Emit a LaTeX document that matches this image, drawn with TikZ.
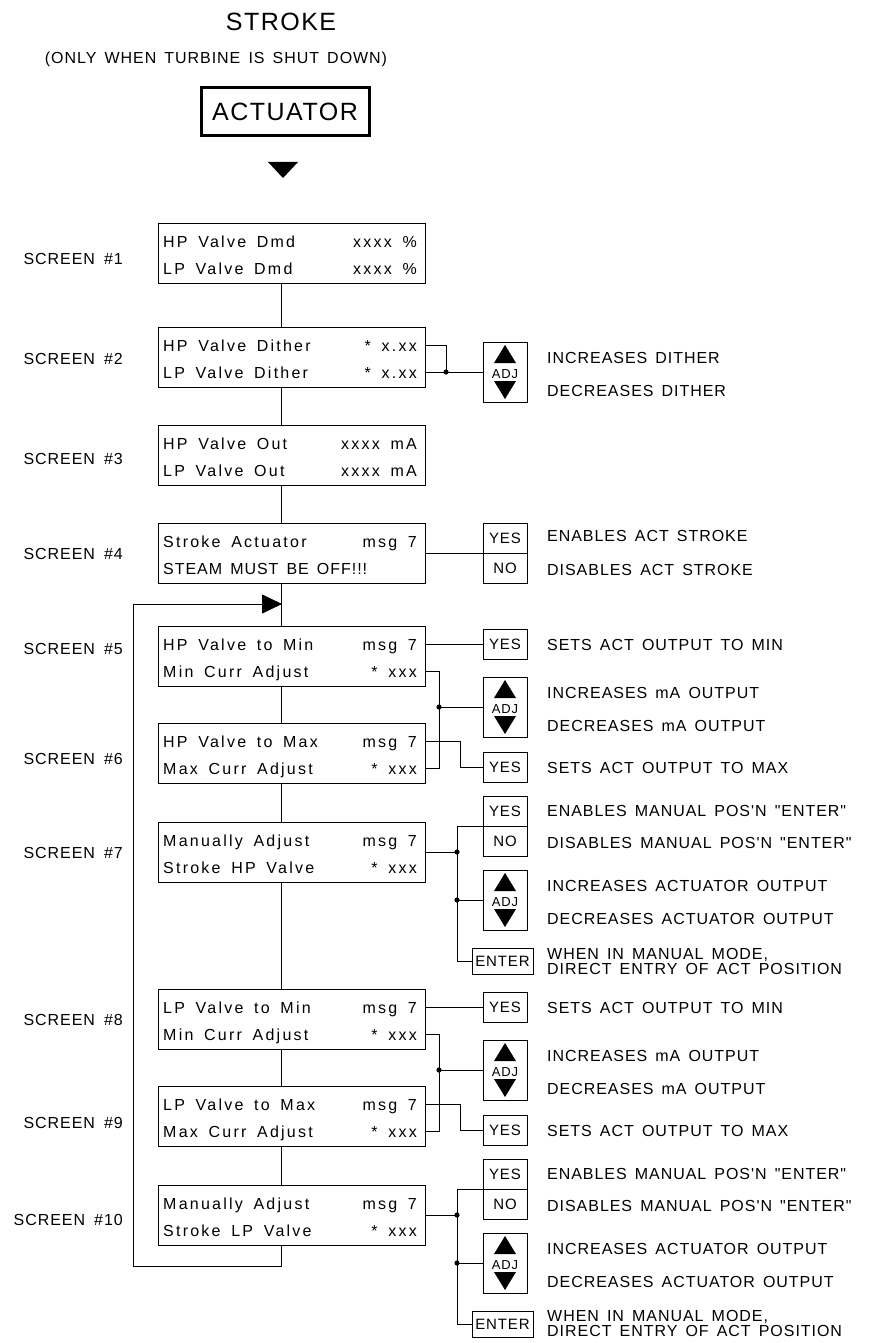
\documentclass[tikz,border=0pt]{standalone}
\usepackage{fontspec}
\usetikzlibrary{arrows.meta}
\newfontfamily\cadlow[LetterSpace=14,WordSpace=1.6]{Liberation Sans}
\newfontfamily\cadup[LetterSpace=6,WordSpace=1.5]{Liberation Sans}
\tikzset{
  ln/.style={line width=0.8pt},
  scr/.style={draw, line width=0.8pt, minimum width=267pt, minimum height=60pt, inner sep=0pt},
  btn/.style={draw, line width=0.8pt, minimum width=44pt, minimum height=30pt, inner sep=0pt, font=\cadup\fontsize{15}{15}\selectfont},
  adjb/.style={draw, line width=0.8pt, minimum width=44pt, minimum height=60pt, inner sep=0pt},
  entb/.style={draw, line width=0.8pt, minimum width=61pt, minimum height=26pt, inner sep=0pt, font=\cadup\fontsize{15}{15}\selectfont},
  rowl/.style={anchor=base west, inner sep=0pt, font=\cadlow\fontsize{16}{18}\selectfont},
  rowr/.style={anchor=base east, inner sep=0pt, font=\cadlow\fontsize{16}{18}\selectfont},
  lbl/.style={anchor=base west, inner sep=0pt, font=\cadup\fontsize{16}{18}\selectfont},
  scrl/.style={anchor=base east, inner sep=0pt, font=\cadup\fontsize{16}{18}\selectfont}
}
\newcommand\screenbox[7]{%
  \node[scr] (s#1) at (291.5,#2) {};
  \node[rowl] (s#1a) at (163,{#2-6}) {#4};
  \node[rowr] (s#1b) at (417,{#2-6}) {#5};
  \node[rowl] (s#1c) at (163,{#2+21}) {#6};
  \node[rowr] (s#1d) at (417,{#2+21}) {#7};
  \node[scrl] (s#1n) at (123,{#3+6}) {SCREEN\kern9pt\##1};
  \coordinate (s#1-r1) at (425,{#2-12});
  \coordinate (s#1-r2) at (425,{#2+15});
  \coordinate (s#1-t) at (281,{#2-30});
  \coordinate (s#1-b) at (281,{#2+30});
}
\newcommand\adjbox[3]{%
  \node[adjb] (#1) at (#2,#3) {};
  \node[inner sep=0pt, font=\cadup\fontsize{13}{13}\selectfont] (#1t) at (#2,{#3+2}) {ADJ};
  \fill ({#2-11},{#3-9}) -- ({#2+11},{#3-9}) -- (#2,{#3-27}) -- cycle;
  \fill ({#2-11},{#3+9}) -- ({#2+11},{#3+9}) -- (#2,{#3+27}) -- cycle;
}
\newcommand\lbl[3]{\node[lbl] (#1) at (547,{#2+6}) {#3};}
\newcommand\jdot[1]{\fill (#1) circle[radius=2.6pt];}
\begin{document}
\begin{tikzpicture}[x=1pt,y=-1pt]
\fill[white] (0,0) rectangle (870,1343);
\path[use as bounding box] (0,0) rectangle (870,1343);

% header
\node[font=\cadup\fontsize{25}{25}\selectfont, anchor=base, inner sep=0pt] (title) at (281,31) {STROKE};
\node[font=\cadup\fontsize{16}{16}\selectfont, anchor=base, inner sep=0pt] (sub) at (216,64) {(ONLY WHEN TURBINE IS SHUT DOWN)};
\node[draw, line width=3pt, minimum width=168pt, minimum height=48pt, inner sep=0pt, font=\cadup\fontsize{25}{25}\selectfont] (act) at (285,112) {ACTUATOR};
\fill (268,162) -- (298,162) -- (283,178) -- cycle;

% screens
\screenbox{1}{253}{258}{HP Valve Dmd}{xxxx \%}{LP Valve Dmd}{xxxx \%}
\screenbox{2}{357}{358}{HP Valve Dither}{* x.xx}{LP Valve Dither}{* x.xx}
\screenbox{3}{455}{458}{HP Valve Out}{xxxx mA}{LP Valve Out}{xxxx mA}
\screenbox{4}{553}{553}{Stroke Actuator}{msg 7}{{\cadup STEAM MUST BE OFF!!!}}{}
\screenbox{5}{656}{648}{HP Valve to Min}{msg 7}{Min Curr Adjust}{* xxx}
\screenbox{6}{753}{758}{HP Valve to Max}{msg 7}{Max Curr Adjust}{* xxx}
\screenbox{7}{852}{852}{Manually Adjust}{msg 7}{Stroke HP Valve}{* xxx}
\screenbox{8}{1019}{1019}{LP Valve to Min}{msg 7}{Min Curr Adjust}{* xxx}
\screenbox{9}{1116}{1122}{LP Valve to Max}{msg 7}{Max Curr Adjust}{* xxx}
\screenbox{10}{1215}{1219}{Manually Adjust}{msg 7}{Stroke LP Valve}{* xxx}

% main chain
\draw[ln] (s1-b) -- (s2-t);
\draw[ln] (s2-b) -- (s3-t);
\draw[ln] (s3-b) -- (s4-t);
\draw[ln] (s4-b) -- (s5-t);
\draw[ln] (s5-b) -- (s6-t);
\draw[ln] (s6-b) -- (s7-t);
\draw[ln] (s7-b) -- (s8-t);
\draw[ln] (s8-b) -- (s9-t);
\draw[ln] (s9-b) -- (s10-t);

% loop back
\coordinate (lb) at (281,1266);
\coordinate (ll) at (133,1266);
\coordinate (lt) at (133,604);
\coordinate (la) at (282,604);
\draw[ln] (s10-b) -- (lb) -- (ll) -- (lt);
\draw[ln, -{Triangle[length=20pt, width=19pt]}] (lt) -- (la);

% screen 2
\adjbox{adj2}{505}{372}
\coordinate (j2) at (446,372);
\draw[ln] (s2-r1) -| (j2);
\draw[ln] (s2-r2) -- (adj2);
\jdot{j2}
\lbl{l2a}{357}{INCREASES DITHER}
\lbl{l2b}{390}{DECREASES DITHER}

% screen 4
\node[btn] (yes4) at (505,538) {YES};
\node[btn] (no4) at (505,568) {NO};
\draw[ln] (s4.east) -- (s4.east -| yes4.west);
\lbl{l4a}{535}{ENABLES ACT STROKE}
\lbl{l4b}{569}{DISABLES ACT STROKE}

% screens 5 and 6
\node[btn] (yes5) at (505,644) {YES};
\draw[ln] (s5-r1) -- (yes5);
\adjbox{adj5}{505}{707}
\coordinate (j5) at (439,707);
\draw[ln] (s5-r2) -- ++(14,0) |- (s6-r2);
\draw[ln] (j5) -- (adj5);
\jdot{j5}
\node[btn] (yes6) at (505,767) {YES};
\draw[ln] (s6-r1) -- ++(35,0) |- (yes6);
\lbl{l5a}{644}{SETS ACT OUTPUT TO MIN}
\lbl{l5b}{692}{INCREASES mA OUTPUT}
\lbl{l5c}{725}{DECREASES mA OUTPUT}
\lbl{l6a}{767}{SETS ACT OUTPUT TO MAX}

% screen 7
\node[btn] (yes7) at (505,811) {YES};
\node[btn] (no7) at (505,841) {NO};
\adjbox{adj7}{505}{900}
\node[entb] (enter7) at (502.5,961) {ENTER};
\coordinate (k7) at (457,826);
\coordinate (j7) at (457,852);
\coordinate (j7b) at (457,900);
\draw[ln] (k7 -| yes7.west) -- (k7) |- (enter7);
\draw[ln] (s7.east) -- (j7);
\draw[ln] (j7b) -- (adj7);
\jdot{j7}
\jdot{j7b}
\lbl{l7a}{810}{ENABLES MANUAL POS'N "ENTER"}
\lbl{l7b}{842}{DISABLES MANUAL POS'N "ENTER"}
\lbl{l7c}{885}{INCREASES ACTUATOR OUTPUT}
\lbl{l7d}{918}{DECREASES ACTUATOR OUTPUT}
\lbl{l7e}{953}{WHEN IN MANUAL MODE,}
\lbl{l7f}{968}{DIRECT ENTRY OF ACT POSITION}

% screens 8 and 9
\node[btn] (yes8) at (505,1007) {YES};
\draw[ln] (s8-r1) -- (yes8);
\adjbox{adj8}{505}{1070}
\coordinate (j8) at (439,1070);
\draw[ln] (s8-r2) -- ++(14,0) |- (s9-r2);
\draw[ln] (j8) -- (adj8);
\jdot{j8}
\node[btn] (yes9) at (505,1130) {YES};
\draw[ln] (s9-r1) -- ++(35,0) |- (yes9);
\lbl{l8a}{1007}{SETS ACT OUTPUT TO MIN}
\lbl{l8b}{1055}{INCREASES mA OUTPUT}
\lbl{l8c}{1088}{DECREASES mA OUTPUT}
\lbl{l9a}{1130}{SETS ACT OUTPUT TO MAX}

% screen 10
\node[btn] (yes10) at (505,1174) {YES};
\node[btn] (no10) at (505,1204) {NO};
\adjbox{adj10}{505}{1263}
\node[entb] (enter10) at (502.5,1324) {ENTER};
\coordinate (k10) at (457,1189);
\coordinate (j10) at (457,1215);
\coordinate (j10b) at (457,1263);
\draw[ln] (k10 -| yes10.west) -- (k10) |- (enter10);
\draw[ln] (s10.east) -- (j10);
\draw[ln] (j10b) -- (adj10);
\jdot{j10}
\jdot{j10b}
\lbl{l10a}{1173}{ENABLES MANUAL POS'N "ENTER"}
\lbl{l10b}{1205}{DISABLES MANUAL POS'N "ENTER"}
\lbl{l10c}{1248}{INCREASES ACTUATOR OUTPUT}
\lbl{l10d}{1281}{DECREASES ACTUATOR OUTPUT}
\lbl{l10e}{1315}{WHEN IN MANUAL MODE,}
\lbl{l10f}{1330}{DIRECT ENTRY OF ACT POSITION}
\end{tikzpicture}
\end{document}
